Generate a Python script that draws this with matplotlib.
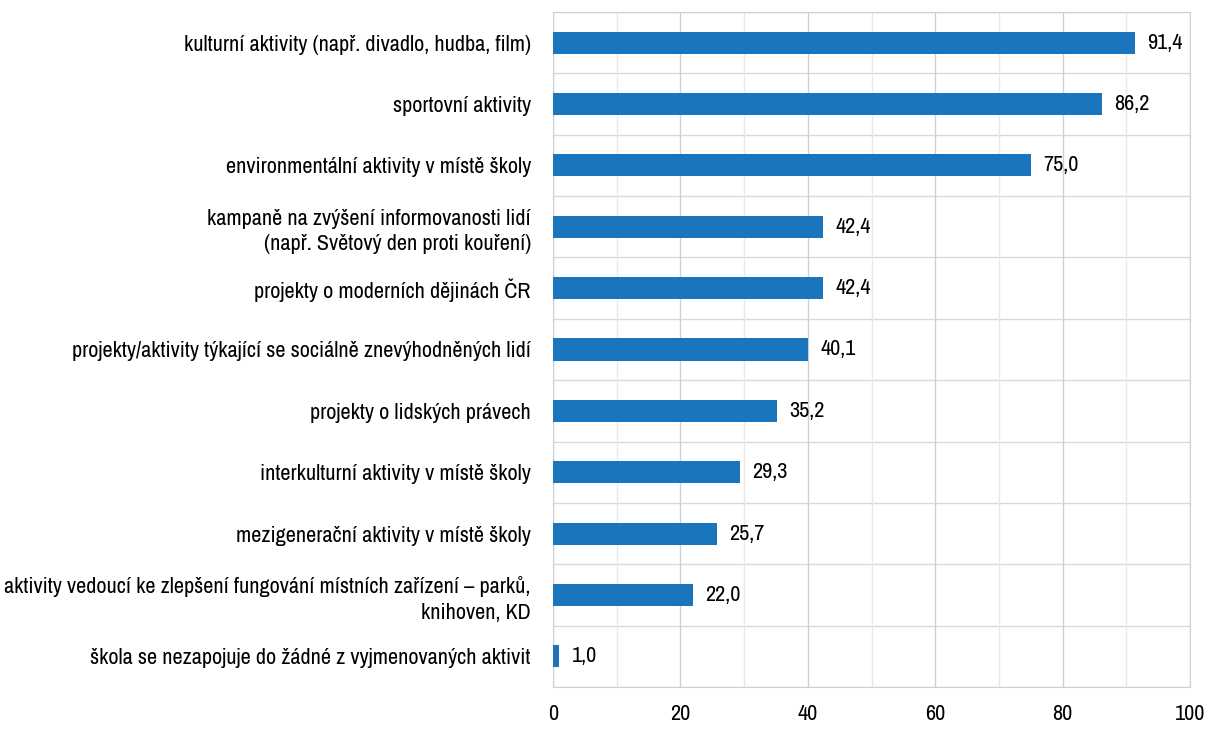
import numpy as np
import matplotlib.pyplot as plt
from matplotlib.ticker import MultipleLocator

plt.rcParams['font.family'] = ['Archivo Narrow', 'Liberation Sans Narrow', 'DejaVu Sans']

categories = [
    "kulturní aktivity (např. divadlo, hudba, film)",
    "sportovní aktivity",
    "environmentální aktivity v místě školy",
    "kampaně na zvýšení informovanosti lidí\n(např. Světový den proti kouření)",
    "projekty o moderních dějinách ČR",
    "projekty/aktivity týkající se sociálně znevýhodněných lidí",
    "projekty o lidských právech",
    "interkulturní aktivity v místě školy",
    "mezigenerační aktivity v místě školy",
    "aktivity vedoucí ke zlepšení fungování místních zařízení – parků,\nknihoven, KD",
    "škola se nezapojuje do žádné z vyjmenovaných aktivit",
]
values = [91.4, 86.2, 75.0, 42.4, 42.4, 40.1, 35.2, 29.3, 25.7, 22.0, 1.0]

fig = plt.figure(figsize=(12.06, 7.31), dpi=100)
ax = fig.add_axes([553 / 1206, 1 - 687 / 731, (1190 - 553) / 1206, (687 - 12) / 731])

y = np.arange(len(categories))
ax.barh(y, values, height=0.36, color='#1a75bc', zorder=3)
for yi, v in zip(y, values):
    ax.text(v + 1.9, yi, f"{v:.1f}".replace('.', ','), va='center', ha='left',
            fontsize=16, color='black')

ax.set_xlim(0, 100)
ax.set_ylim(len(categories) - 0.5, -0.5)
ax.xaxis.set_major_locator(MultipleLocator(20))
ax.xaxis.set_minor_locator(MultipleLocator(10))
ax.grid(axis='x', which='major', color='#d0d0d0', lw=1, zorder=0)
ax.grid(axis='x', which='minor', color='#e8e8e8', lw=1, zorder=0)
for b in np.arange(-0.5, len(categories), 1):
    ax.axhline(b, color='#d9d9d9', lw=1, zorder=1)

ax.set_yticks(y)
ax.set_yticklabels(categories, fontsize=16, ha='right', multialignment='right',
                   linespacing=1.35)
ax.tick_params(axis='y', length=0, pad=16)
ax.tick_params(axis='x', which='both', length=0, labelsize=16, pad=12)
for s in ax.spines.values():
    s.set_color('#d0d0d0')

fig.savefig('out.png', dpi=100, facecolor='white')
